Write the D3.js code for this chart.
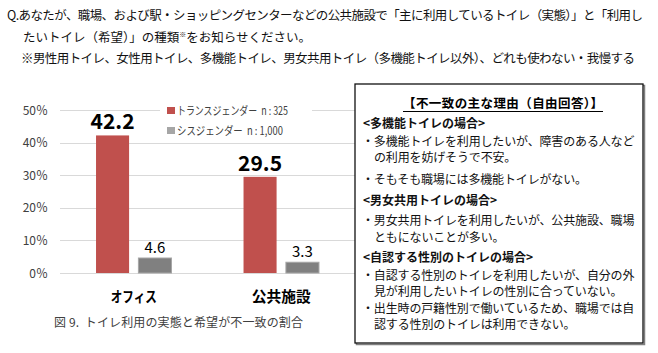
<!DOCTYPE html>
<html>
<head>
<meta charset="utf-8">
<script src="https://cdn.jsdelivr.net/npm/d3@7"></script>
<style>
  body { margin: 0; background: #fff; }
  svg text { font-family: "Noto Sans CJK JP", "Noto Sans", sans-serif; }
</style>
</head>
<body>
<div id="chart-area"></div>
<script>
// data
var categories = ["オフィス", "公共施設"];
var seriesNames = ["トランスジェンダー", "シスジェンダー"];
var legendLabels = ["トランスジェンダー\u00a0 n : 325", "シスジェンダー\u00a0 n : 1,000"];
var transValues = [42.2, 29.5];
var cisValues = [4.6, 3.3];
var yTicks = [0, 10, 20, 30, 40, 50];

var questionLines = [
  "Q.あなたが、職場、および駅・ショッピングセンターなどの公共施設で「主に利用しているトイレ（実態）」と「利用し",
  "たいトイレ（希望）」の種類",
  "※男性用トイレ、女性用トイレ、多機能トイレ、男女共用トイレ（多機能トイレ以外）、どれも使わない・我慢する"
];
var caption = "図 9.\u00a0 トイレ利用の実態と希望が不一致の割合";
var boxTitle = "【不一致の主な理由（自由回答）】";
// [text, kind]  kind: h = heading, b = bullet, c = continuation
var boxLines = [
  ["<多機能トイレの場合>", "h"],
  ["・多機能トイレを利用したいが、障害のある人など", "b"],
  ["の利用を妨げそうで不安。", "c"],
  ["・そもそも職場には多機能トイレがない。", "b"],
  ["<男女共用トイレの場合>", "h"],
  ["・男女共用トイレを利用したいが、公共施設、職場", "b"],
  ["ともにないことが多い。", "c"],
  ["<自認する性別のトイレの場合>", "h"],
  ["・自認する性別のトイレを利用したいが、自分の外", "b"],
  ["見が利用したいトイレの性別に合っていない。", "c"],
  ["・出生時の戸籍性別で働いているため、職場では自", "b"],
  ["認する性別のトイレは利用できない。", "c"]
];
var boxBaselines = [128, 146, 162, 184, 205, 225, 242, 262, 280, 296, 313, 329];

var svg = d3.select("#chart-area").append("svg")
    .attr("width", 658)
    .attr("height", 353);

// question text
svg.append("text").attr("x", 7).attr("y", 20)
    .attr("font-size", 12.5).attr("fill", "#111")
    .attr("textLength", 636).attr("lengthAdjust", "spacing")
    .text(questionLines[0]);
var q2 = svg.append("text").attr("x", 23).attr("y", 42)
    .attr("font-size", 12.5).attr("fill", "#111");
q2.append("tspan").text(questionLines[1]);
q2.append("tspan").attr("font-size", 7).attr("dy", -5).text("※");
q2.append("tspan").attr("dy", 5).text("をお知らせください。");
svg.append("text").attr("x", 21).attr("y", 63)
    .attr("font-size", 12.5).attr("fill", "#111")
    .attr("textLength", 614).attr("lengthAdjust", "spacing")
    .text(questionLines[2]);

// scales
var x0 = d3.scaleBand()
    .domain(categories)
    .range([60, 355])
    .padding(0);

var x1 = d3.scaleBand()
    .domain(seriesNames)
    .range([0, x0.bandwidth()])
    .paddingInner(0.22)
    .paddingOuter(0.85);

var y = d3.scaleLinear()
    .domain([0, 50])
    .range([273, 110]);

var color = d3.scaleOrdinal()
    .domain(seriesNames)
    .range(["#C0504D", "#808080"]);

// gridlines
svg.selectAll("line.grid")
    .data(yTicks)
    .enter()
    .append("line")
    .attr("class", "grid")
    .attr("x1", 60)
    .attr("x2", 355)
    .attr("y1", (d) => { return Math.round(y(d)) + 0.5; })
    .attr("y2", (d) => { return Math.round(y(d)) + 0.5; })
    .attr("stroke", "#d9d9d9")
    .attr("stroke-width", 1);

// y axis labels
svg.selectAll("text.ytick")
    .data(yTicks)
    .enter()
    .append("text")
    .attr("class", "ytick")
    .attr("x", 48)
    .attr("y", (d) => { return y(d) + 4.5; })
    .attr("text-anchor", "end")
    .attr("font-size", 12)
    .attr("fill", "#404040")
    .text((d) => { return d + "％"; });

// bars
var rows = [];
categories.forEach((c, i) => {
  rows.push({cat: c, s: seriesNames[0], v: transValues[i]});
  rows.push({cat: c, s: seriesNames[1], v: cisValues[i]});
});

svg.selectAll("rect.bar")
    .data(rows)
    .enter()
    .append("rect")
    .attr("class", "bar")
    .attr("x", (d) => { return x0(d.cat) + x1(d.s); })
    .attr("y", (d) => { return y(d.v); })
    .attr("width", x1.bandwidth())
    .attr("height", (d) => { return y(0) - y(d.v); })
    .attr("fill", (d) => { return color(d.s); })
    .attr("stroke", (d) => { return d.s == seriesNames[1] ? "#a6a6a6" : "none"; })
    .attr("stroke-width", 1);

// value labels
svg.selectAll("text.val")
    .data(rows)
    .enter()
    .append("text")
    .attr("class", "val")
    .attr("x", (d) => { return x0(d.cat) + x1(d.s) + x1.bandwidth() / 2; })
    .attr("y", (d) => { return y(d.v) - (d.s == seriesNames[0] ? 6 : 5); })
    .attr("text-anchor", "middle")
    .attr("font-size", (d) => { return d.s == seriesNames[0] ? 21 : 15; })
    .attr("font-weight", (d) => { return d.s == seriesNames[0] ? "bold" : "normal"; })
    .attr("fill", "#000")
    .text((d) => { return d.v.toFixed(1); });

// category labels
svg.selectAll("text.cat")
    .data(categories)
    .enter()
    .append("text")
    .attr("class", "cat")
    .attr("x", (d) => { return x0(d) + x0.bandwidth() / 2; })
    .attr("y", 302)
    .attr("text-anchor", "middle")
    .attr("font-size", 14.5)
    .attr("font-weight", "bold")
    .attr("fill", "#000")
    .attr("textLength", (d, i) => { return i == 0 ? 46 : 59; })
    .attr("lengthAdjust", "spacingAndGlyphs")
    .text((d) => { return d; });

// legend
svg.append("rect").attr("x", 160).attr("y", 102).attr("width", 152).attr("height", 36).attr("fill", "#fff");
var legend = svg.selectAll("g.legend")
    .data(legendLabels)
    .enter()
    .append("g")
    .attr("class", "legend")
    .attr("transform", (d, i) => { return "translate(167," + (107 + i * 20) + ")"; });
legend.append("rect")
    .attr("width", 8).attr("height", 7)
    .attr("fill", (d, i) => { return i == 0 ? "#C0504D" : "#a6a6a6"; });
legend.append("text")
    .attr("x", 10).attr("y", 7.5)
    .attr("font-size", 11.5)
    .attr("fill", "#404040")
    .attr("textLength", (d, i) => { return i == 0 ? 111 : 106; })
    .attr("lengthAdjust", "spacingAndGlyphs")
    .text((d) => { return d; });

// caption
svg.append("text").attr("x", 54).attr("y", 327)
    .attr("font-size", 12).attr("fill", "#404040")
    .attr("textLength", 249).attr("lengthAdjust", "spacing")
    .text(caption);

// reasons box
svg.append("rect").attr("x", 356.5).attr("y", 85.5).attr("width", 288).attr("height", 259)
    .attr("fill", "none").attr("stroke", "#7f7f7f").attr("stroke-width", 1.5);
svg.append("rect").attr("x", 355).attr("y", 84).attr("width", 288).attr("height", 259)
    .attr("fill", "#fff").attr("stroke", "#111").attr("stroke-width", 1.3);

svg.append("text").attr("x", 503).attr("y", 108)
    .attr("text-anchor", "middle")
    .attr("font-size", 12.5).attr("font-weight", "bold").attr("fill", "#000")
    .attr("textLength", 200).attr("lengthAdjust", "spacing")
    .text(boxTitle);
svg.append("line").attr("x1", 403).attr("x2", 603).attr("y1", 111.5).attr("y2", 111.5)
    .attr("stroke", "#000").attr("stroke-width", 1);

svg.selectAll("text.reason")
    .data(boxLines)
    .enter()
    .append("text")
    .attr("class", "reason")
    .attr("x", (d) => { return d[1] == "c" ? 374 : (d[1] == "h" ? 363 : 362); })
    .attr("y", (d, i) => { return boxBaselines[i]; })
    .attr("font-size", 12)
    .attr("font-weight", (d) => { return d[1] == "h" ? "bold" : "normal"; })
    .attr("letter-spacing", (d) => { return d[1] == "h" ? 0 : -0.15; })
    .attr("fill", "#111")
    .text((d) => { return d[0]; });
</script>
</body>
</html>
